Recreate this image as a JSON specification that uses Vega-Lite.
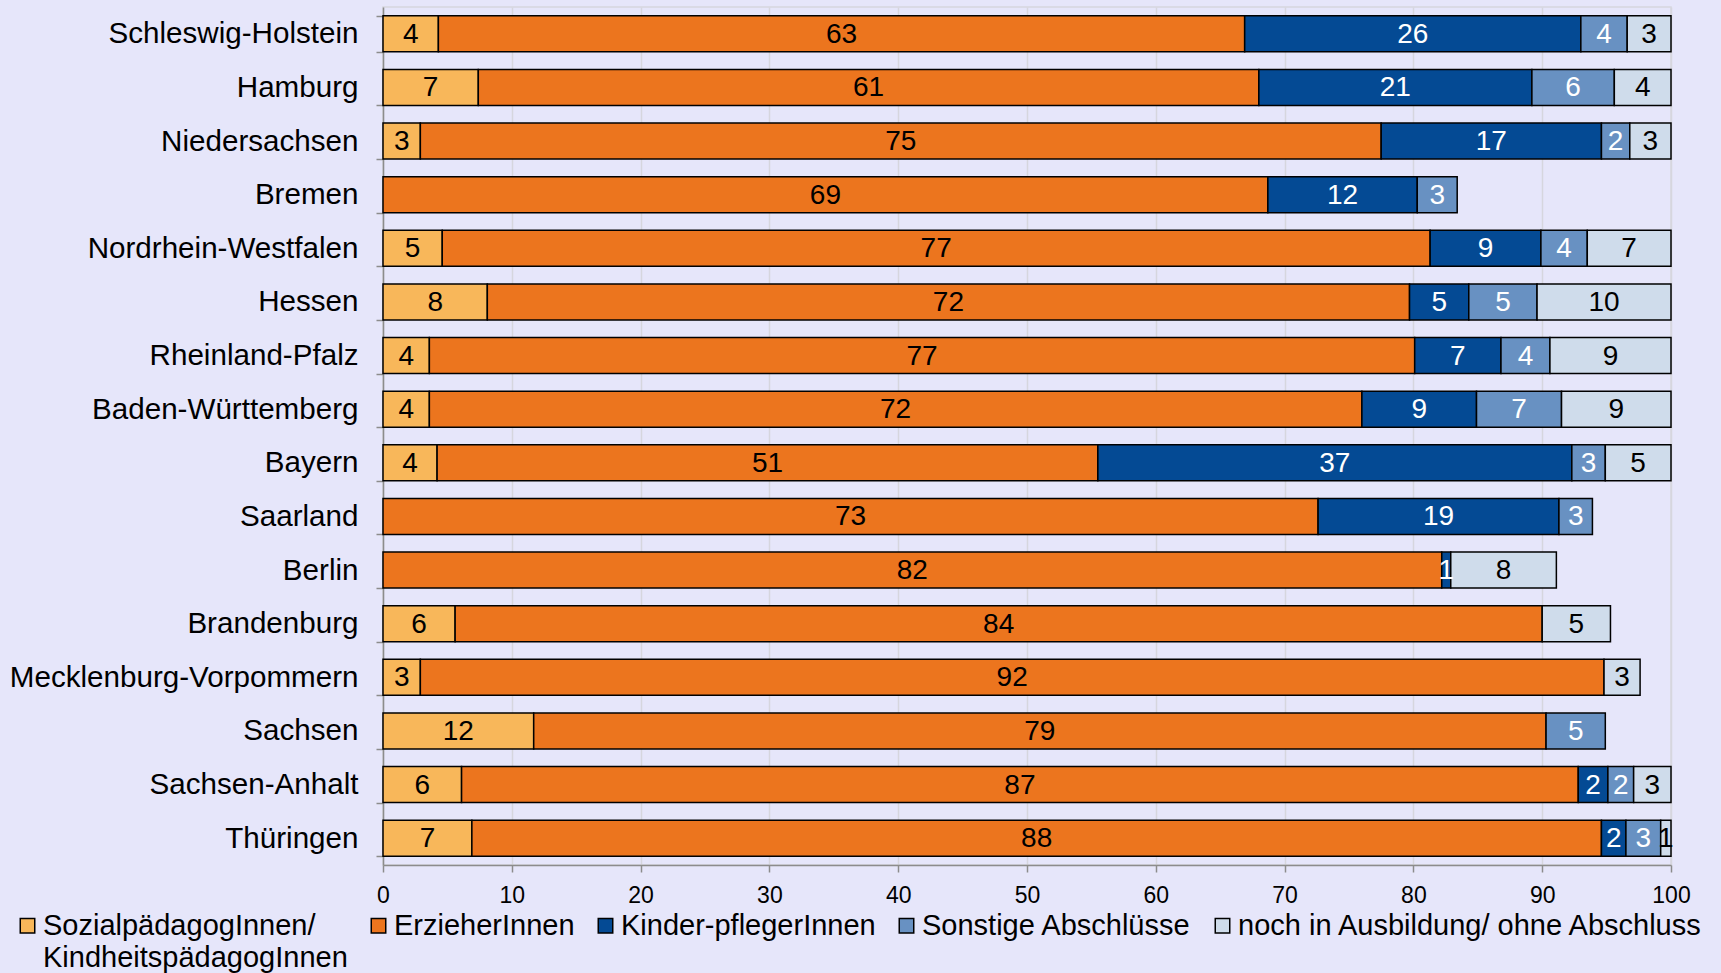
{
  "$schema": "https://vega.github.io/schema/vega-lite/v6.json",
  "width": 1288,
  "height": 858,
  "autosize": {"type": "none"},
  "padding": {"left": 383, "top": 7, "right": 50, "bottom": 108},
  "background": "#E6E6FA",
  "config": {
    "font": "Liberation Sans",
    "view": {"stroke": "#D6D6DE", "strokeWidth": 1.5}
  },
  "data": {
    "values": [
      {"land": "Schleswig-Holstein", "cat": "SozialpädagogInnen/ KindheitspädagogInnen", "k": 1, "v": 4.3},
      {"land": "Schleswig-Holstein", "cat": "ErzieherInnen", "k": 2, "v": 62.6},
      {"land": "Schleswig-Holstein", "cat": "Kinder-pflegerInnen", "k": 3, "v": 26.1},
      {"land": "Schleswig-Holstein", "cat": "Sonstige Abschlüsse", "k": 4, "v": 3.6},
      {"land": "Schleswig-Holstein", "cat": "noch in Ausbildung/ ohne Abschluss", "k": 5, "v": 3.4},
      {"land": "Hamburg", "cat": "SozialpädagogInnen/ KindheitspädagogInnen", "k": 1, "v": 7.4},
      {"land": "Hamburg", "cat": "ErzieherInnen", "k": 2, "v": 60.6},
      {"land": "Hamburg", "cat": "Kinder-pflegerInnen", "k": 3, "v": 21.2},
      {"land": "Hamburg", "cat": "Sonstige Abschlüsse", "k": 4, "v": 6.4},
      {"land": "Hamburg", "cat": "noch in Ausbildung/ ohne Abschluss", "k": 5, "v": 4.4},
      {"land": "Niedersachsen", "cat": "SozialpädagogInnen/ KindheitspädagogInnen", "k": 1, "v": 2.9},
      {"land": "Niedersachsen", "cat": "ErzieherInnen", "k": 2, "v": 74.6},
      {"land": "Niedersachsen", "cat": "Kinder-pflegerInnen", "k": 3, "v": 17.1},
      {"land": "Niedersachsen", "cat": "Sonstige Abschlüsse", "k": 4, "v": 2.2},
      {"land": "Niedersachsen", "cat": "noch in Ausbildung/ ohne Abschluss", "k": 5, "v": 3.2},
      {"land": "Bremen", "cat": "ErzieherInnen", "k": 2, "v": 68.7},
      {"land": "Bremen", "cat": "Kinder-pflegerInnen", "k": 3, "v": 11.6},
      {"land": "Bremen", "cat": "Sonstige Abschlüsse", "k": 4, "v": 3.1},
      {"land": "Nordrhein-Westfalen", "cat": "SozialpädagogInnen/ KindheitspädagogInnen", "k": 1, "v": 4.6},
      {"land": "Nordrhein-Westfalen", "cat": "ErzieherInnen", "k": 2, "v": 76.7},
      {"land": "Nordrhein-Westfalen", "cat": "Kinder-pflegerInnen", "k": 3, "v": 8.6},
      {"land": "Nordrhein-Westfalen", "cat": "Sonstige Abschlüsse", "k": 4, "v": 3.6},
      {"land": "Nordrhein-Westfalen", "cat": "noch in Ausbildung/ ohne Abschluss", "k": 5, "v": 6.5},
      {"land": "Hessen", "cat": "SozialpädagogInnen/ KindheitspädagogInnen", "k": 1, "v": 8.1},
      {"land": "Hessen", "cat": "ErzieherInnen", "k": 2, "v": 71.6},
      {"land": "Hessen", "cat": "Kinder-pflegerInnen", "k": 3, "v": 4.6},
      {"land": "Hessen", "cat": "Sonstige Abschlüsse", "k": 4, "v": 5.3},
      {"land": "Hessen", "cat": "noch in Ausbildung/ ohne Abschluss", "k": 5, "v": 10.4},
      {"land": "Rheinland-Pfalz", "cat": "SozialpädagogInnen/ KindheitspädagogInnen", "k": 1, "v": 3.6},
      {"land": "Rheinland-Pfalz", "cat": "ErzieherInnen", "k": 2, "v": 76.5},
      {"land": "Rheinland-Pfalz", "cat": "Kinder-pflegerInnen", "k": 3, "v": 6.7},
      {"land": "Rheinland-Pfalz", "cat": "Sonstige Abschlüsse", "k": 4, "v": 3.8},
      {"land": "Rheinland-Pfalz", "cat": "noch in Ausbildung/ ohne Abschluss", "k": 5, "v": 9.4},
      {"land": "Baden-Württemberg", "cat": "SozialpädagogInnen/ KindheitspädagogInnen", "k": 1, "v": 3.6},
      {"land": "Baden-Württemberg", "cat": "ErzieherInnen", "k": 2, "v": 72.4},
      {"land": "Baden-Württemberg", "cat": "Kinder-pflegerInnen", "k": 3, "v": 8.9},
      {"land": "Baden-Württemberg", "cat": "Sonstige Abschlüsse", "k": 4, "v": 6.6},
      {"land": "Baden-Württemberg", "cat": "noch in Ausbildung/ ohne Abschluss", "k": 5, "v": 8.5},
      {"land": "Bayern", "cat": "SozialpädagogInnen/ KindheitspädagogInnen", "k": 1, "v": 4.2},
      {"land": "Bayern", "cat": "ErzieherInnen", "k": 2, "v": 51.3},
      {"land": "Bayern", "cat": "Kinder-pflegerInnen", "k": 3, "v": 36.8},
      {"land": "Bayern", "cat": "Sonstige Abschlüsse", "k": 4, "v": 2.6},
      {"land": "Bayern", "cat": "noch in Ausbildung/ ohne Abschluss", "k": 5, "v": 5.1},
      {"land": "Saarland", "cat": "ErzieherInnen", "k": 2, "v": 72.6},
      {"land": "Saarland", "cat": "Kinder-pflegerInnen", "k": 3, "v": 18.7},
      {"land": "Saarland", "cat": "Sonstige Abschlüsse", "k": 4, "v": 2.6},
      {"land": "Berlin", "cat": "ErzieherInnen", "k": 2, "v": 82.2},
      {"land": "Berlin", "cat": "Kinder-pflegerInnen", "k": 3, "v": 0.7},
      {"land": "Berlin", "cat": "noch in Ausbildung/ ohne Abschluss", "k": 5, "v": 8.2},
      {"land": "Brandenburg", "cat": "SozialpädagogInnen/ KindheitspädagogInnen", "k": 1, "v": 5.6},
      {"land": "Brandenburg", "cat": "ErzieherInnen", "k": 2, "v": 84.4},
      {"land": "Brandenburg", "cat": "noch in Ausbildung/ ohne Abschluss", "k": 5, "v": 5.3},
      {"land": "Mecklenburg-Vorpommern", "cat": "SozialpädagogInnen/ KindheitspädagogInnen", "k": 1, "v": 2.9},
      {"land": "Mecklenburg-Vorpommern", "cat": "ErzieherInnen", "k": 2, "v": 91.9},
      {"land": "Mecklenburg-Vorpommern", "cat": "noch in Ausbildung/ ohne Abschluss", "k": 5, "v": 2.8},
      {"land": "Sachsen", "cat": "SozialpädagogInnen/ KindheitspädagogInnen", "k": 1, "v": 11.7},
      {"land": "Sachsen", "cat": "ErzieherInnen", "k": 2, "v": 78.6},
      {"land": "Sachsen", "cat": "Sonstige Abschlüsse", "k": 4, "v": 4.6},
      {"land": "Sachsen-Anhalt", "cat": "SozialpädagogInnen/ KindheitspädagogInnen", "k": 1, "v": 6.1},
      {"land": "Sachsen-Anhalt", "cat": "ErzieherInnen", "k": 2, "v": 86.7},
      {"land": "Sachsen-Anhalt", "cat": "Kinder-pflegerInnen", "k": 3, "v": 2.3},
      {"land": "Sachsen-Anhalt", "cat": "Sonstige Abschlüsse", "k": 4, "v": 2.0},
      {"land": "Sachsen-Anhalt", "cat": "noch in Ausbildung/ ohne Abschluss", "k": 5, "v": 2.9},
      {"land": "Thüringen", "cat": "SozialpädagogInnen/ KindheitspädagogInnen", "k": 1, "v": 6.9},
      {"land": "Thüringen", "cat": "ErzieherInnen", "k": 2, "v": 87.7},
      {"land": "Thüringen", "cat": "Kinder-pflegerInnen", "k": 3, "v": 1.9},
      {"land": "Thüringen", "cat": "Sonstige Abschlüsse", "k": 4, "v": 2.7},
      {"land": "Thüringen", "cat": "noch in Ausbildung/ ohne Abschluss", "k": 5, "v": 0.8}
    ]
  },
  "transform": [
    {"stack": "v", "groupby": ["land"], "sort": [{"field": "k", "order": "ascending"}], "as": ["x0", "x1"]},
    {"calculate": "(datum.x0 + datum.x1) / 2", "as": "xm"}
  ],
  "encoding": {
    "y": {
      "field": "land",
      "type": "nominal",
      "sort": ["Schleswig-Holstein", "Hamburg", "Niedersachsen", "Bremen", "Nordrhein-Westfalen", "Hessen", "Rheinland-Pfalz", "Baden-Württemberg", "Bayern", "Saarland", "Berlin", "Brandenburg", "Mecklenburg-Vorpommern", "Sachsen", "Sachsen-Anhalt", "Thüringen"],
      "scale": {"paddingInner": 0.33, "paddingOuter": 0.165},
      "axis": {
        "title": null,
        "labelFontSize": 29.6,
        "labelColor": "black",
        "labelPadding": 18,
        "tickBand": "extent",
        "tickSize": 7,
        "tickWidth": 1.5,
        "tickColor": "#8C8C8C",
        "domainColor": "#8C8C8C",
        "domainWidth": 1.5,
        "grid": false,
        "labelLimit": 400
      }
    }
  },
  "layer": [
    {
      "mark": {"type": "bar", "stroke": "black", "strokeWidth": 1.5},
      "encoding": {
        "x": {
          "field": "x0",
          "type": "quantitative",
          "scale": {"domain": [0, 100], "nice": false},
          "axis": {
            "title": null,
            "values": [0, 10, 20, 30, 40, 50, 60, 70, 80, 90, 100],
            "labelFontSize": 23,
            "labelColor": "black",
            "labelPadding": 12,
            "labelFlush": false,
            "tickSize": 7,
            "tickWidth": 1.5,
            "tickColor": "#8C8C8C",
            "domainColor": "#8C8C8C",
            "domainWidth": 1.5,
            "grid": true,
            "gridColor": "#D6D6DE",
            "gridWidth": 1.5
          }
        },
        "x2": {"field": "x1"},
        "color": {
          "field": "cat",
          "type": "nominal",
          "scale": {
            "domain": ["SozialpädagogInnen/ KindheitspädagogInnen", "ErzieherInnen", "Kinder-pflegerInnen", "Sonstige Abschlüsse", "noch in Ausbildung/ ohne Abschluss"],
            "range": ["#F8B75A", "#EC751E", "#044A94", "#6891C2", "#CFDCEB"]
          },
          "legend": {
            "title": null,
            "orient": "none",
            "legendX": -370,
            "legendY": 904,
            "direction": "horizontal",
            "columns": 5,
            "symbolType": "square",
            "symbolSize": 210,
            "symbolStrokeColor": "black",
            "symbolStrokeWidth": 1.5,
            "labelFontSize": 29,
            "labelColor": "black",
            "labelLimit": 600,
            "labelOffset": 1,
            "columnPadding": 16,
            "labelBaseline": "top",
            "labelExpr": "datum.label == 'SozialpädagogInnen/ KindheitspädagogInnen' ? ['SozialpädagogInnen/', 'KindheitspädagogInnen'] : [datum.label, '']",
            "encode": {
              "labels": {"update": {"dy": {"value": -14}, "lineHeight": {"value": 32}}}
            }
          }
        }
      }
    },
    {
      "mark": {"type": "text", "fontSize": 28, "baseline": "middle", "align": "center", "dy": 1},
      "encoding": {
        "x": {"field": "xm", "type": "quantitative"},
        "text": {"field": "v", "type": "quantitative", "format": ".0f"},
        "color": {
          "condition": {"test": "datum.k == 3 || datum.k == 4", "value": "white"},
          "value": "black"
        }
      }
    }
  ]
}
